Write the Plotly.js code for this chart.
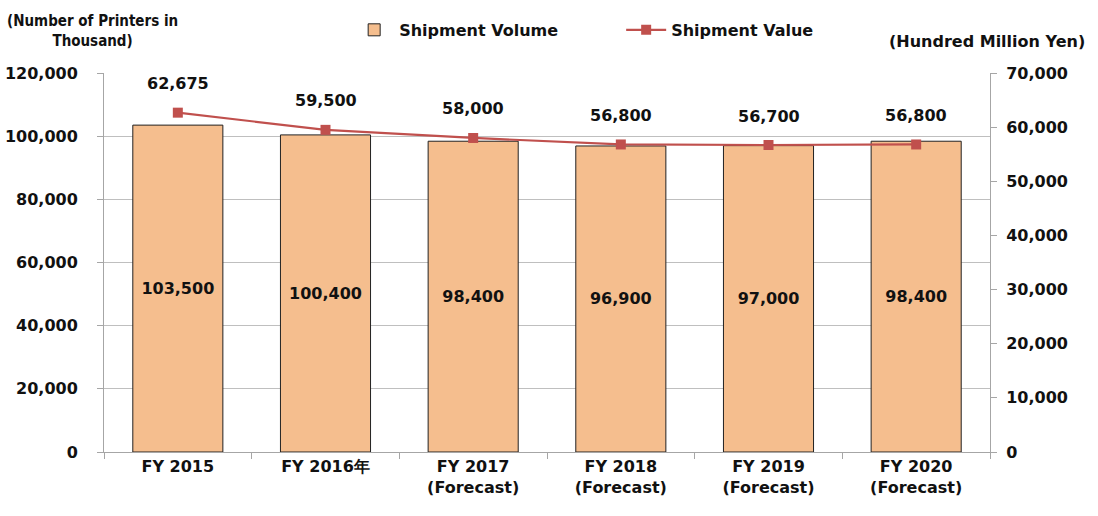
<!DOCTYPE html>
<html><head><meta charset="utf-8">
<script src="https://cdn.plot.ly/plotly-3.0.1.min.js"></script>
<style>body{margin:0;background:#fff}#c{width:1098px;height:516px}</style>
</head><body><div id="c"></div>
<script>
const categories = ["FY 2015", "FY 2016年", "FY 2017<br>(Forecast)", "FY 2018<br>(Forecast)", "FY 2019<br>(Forecast)", "FY 2020<br>(Forecast)"];
const shipmentVolume = [103500, 100400, 98400, 96900, 97000, 98400];
const shipmentValue = [62675, 59500, 58000, 56800, 56700, 56800];
const leftTicks = [0, 20000, 40000, 60000, 80000, 100000, 120000];
const rightTicks = [0, 10000, 20000, 30000, 40000, 50000, 60000, 70000];

const FONT = "'DejaVu Sans', sans-serif";
const fmt = v => v.toLocaleString('en-US');
const f = (s, fam) => ({family: fam || FONT, size: s, color: '#111', weight: 'bold'});

const traces = [
  {
    type: 'bar', name: 'Shipment Volume', x: categories, y: shipmentVolume,
    marker: {color: '#F5BE8E', line: {color: '#222', width: 1}},
    width: 0.61,
    text: shipmentVolume.map(fmt), textposition: 'inside', insidetextanchor: 'middle',
    textfont: f(16),
    hoverinfo: 'none'
  },
  {
    type: 'scatter', mode: 'lines+markers', name: 'Shipment Value', x: categories, y: shipmentValue,
    yaxis: 'y2', line: {color: '#C0504D', width: 2.2},
    marker: {symbol: 'square', size: 10, color: '#C0504D'},
    hoverinfo: 'none'
  }
];

const annotations = shipmentValue.map((v, i) => ({
  x: categories[i], y: v, xref: 'x', yref: 'y2', text: fmt(v), showarrow: false,
  yshift: 29, font: f(16)
}));
annotations.push({
  xref: 'paper', yref: 'paper', x: -0.0135, y: 1.111, xanchor: 'center', yanchor: 'middle', align: 'center',
  text: '(Number of Printers in<br>Thousand)', showarrow: false, font: f(15, "'DejaVu Sans Condensed', 'DejaVu Sans', sans-serif")
});
annotations.push({
  xref: 'paper', yref: 'paper', x: 0.997, y: 1.082, xanchor: 'center', yanchor: 'middle',
  text: '(Hundred Million Yen)', showarrow: false, font: f(16)
});

const layout = {
  width: 1098, height: 516,
  margin: {l: 104, r: 108, t: 73, b: 64},
  paper_bgcolor: '#fff', plot_bgcolor: '#fff',
  font: f(16),
  showlegend: true,
  legend: {orientation: 'h', xref: 'container', yref: 'container', x: 0.318, xanchor: 'left', y: 0.942, yanchor: 'middle',
           font: f(16), traceorder: 'normal', itemwidth: 40, entrywidth: 217, entrywidthmode: 'pixels'},
  xaxis: {
    type: 'category', tickson: 'boundaries', ticks: 'outside', ticklen: 6, tickcolor: '#A6A6A6',
    showline: true, linecolor: '#A6A6A6', linewidth: 1, showgrid: false,
    tickfont: f(16)
  },
  yaxis: {
    range: [0, 120000], tickvals: leftTicks, ticktext: leftTicks.map(fmt),
    showgrid: true, gridcolor: '#BFBFBF', gridwidth: 1,
    showline: true, linecolor: '#A6A6A6', ticks: 'outside', ticklen: 6, tickcolor: '#A6A6A6',
    ticklabelstandoff: 16, zeroline: false,
    tickfont: f(16)
  },
  yaxis2: {
    range: [0, 70000], overlaying: 'y', side: 'right', tickvals: rightTicks, ticktext: rightTicks.map(fmt),
    showgrid: false, showline: true, linecolor: '#A6A6A6', ticks: 'outside', ticklen: 6, tickcolor: '#A6A6A6',
    ticklabelstandoff: 6, zeroline: false,
    tickfont: f(16)
  },
  annotations: annotations
};

Plotly.newPlot('c', traces, layout, {displayModeBar: false, staticPlot: true});
</script>
</body></html>
